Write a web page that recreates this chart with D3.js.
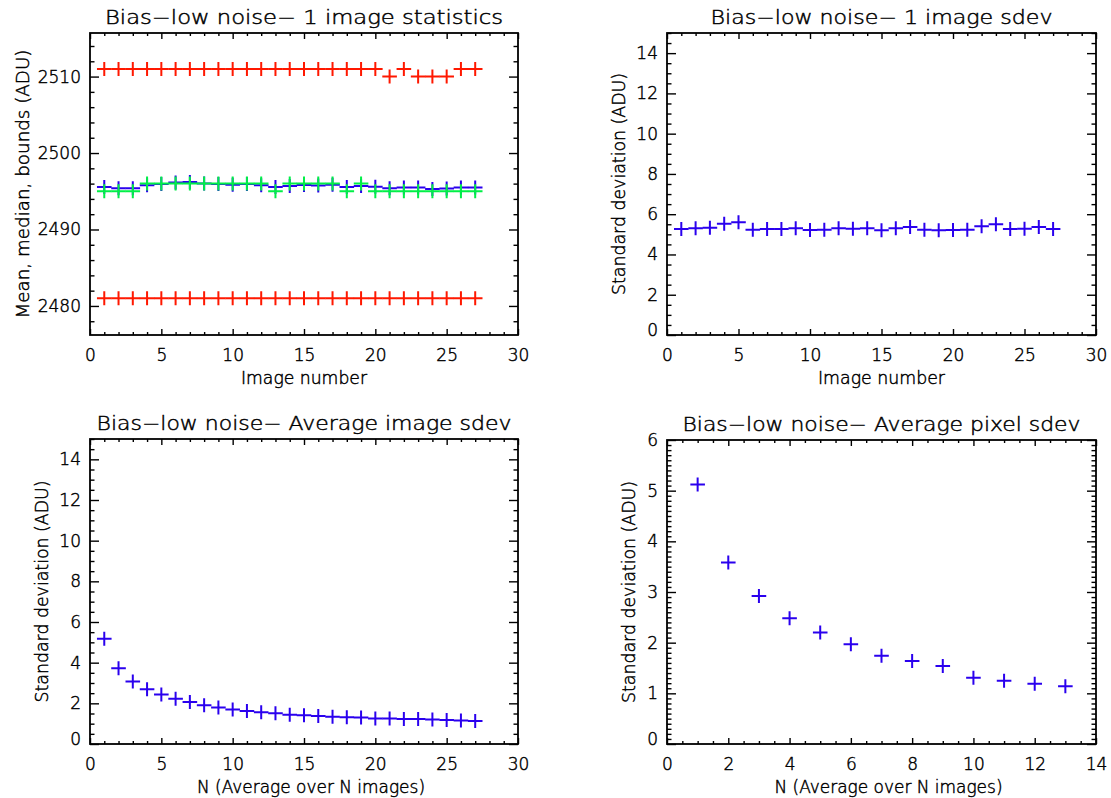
<!DOCTYPE html>
<html><head><meta charset="utf-8">
<script src="https://cdn.jsdelivr.net/npm/d3@7/dist/d3.min.js"></script>
<style>body{margin:0;background:#fff} text{font-weight:200;stroke:#000;stroke-width:0.45px}</style>
</head><body>
<svg id="c" width="1111" height="798"></svg>
<script>
// ---------- data ----------
const imageNumbers = [1,2,3,4,5,6,7,8,9,10,11,12,13,14,15,16,17,18,19,20,21,22,23,24,25,26,27];
const maxVals    = [2511,2511,2511,2511,2511,2511,2511,2511,2511,2511,2511,2511,2511,2511,2511,2511,2511,2511,2511,2511,2510,2511,2510,2510,2510,2511,2511];
const minVals    = [2481,2481,2481,2481,2481,2481,2481,2481,2481,2481,2481,2481,2481,2481,2481,2481,2481,2481,2481,2481,2481,2481,2481,2481,2481,2481,2481];
const meanVals   = [2495.56,2495.4,2495.4,2495.8,2495.95,2496.15,2496.2,2496.0,2495.95,2495.85,2495.95,2495.8,2495.55,2495.7,2495.82,2495.75,2495.85,2495.55,2495.7,2495.6,2495.4,2495.5,2495.5,2495.3,2495.35,2495.5,2495.5];
const medianVals = [2495,2495,2495,2496,2496,2496,2496,2496,2496,2496,2496,2496,2495,2496,2496,2496,2496,2495,2496,2495,2495,2495,2495,2495,2495,2495,2495];
const sdevVals   = [5.27,5.3,5.33,5.53,5.6,5.23,5.27,5.27,5.3,5.22,5.23,5.3,5.28,5.3,5.2,5.3,5.37,5.23,5.2,5.22,5.23,5.4,5.5,5.27,5.28,5.37,5.27];
const avgN       = [1,2,3,4,5,6,7,8,9,10,11,12,13,14,15,16,17,18,19,20,21,22,23,24,25,26,27];
const avgImgSdev = [5.18,3.72,3.07,2.69,2.44,2.23,2.07,1.9,1.8,1.7,1.62,1.56,1.51,1.44,1.41,1.38,1.34,1.31,1.3,1.26,1.25,1.23,1.23,1.21,1.18,1.16,1.13];
const pixN       = [1,2,3,4,5,6,7,8,9,10,11,12,13];
const avgPixSdev = [5.12,3.58,2.92,2.48,2.2,1.97,1.74,1.64,1.54,1.31,1.25,1.19,1.14];

const xTicks30 = [0,5,10,15,20,25,30];
const xTicks14 = [0,2,4,6,8,10,12,14];
const yTicksStats = [2480,2490,2500,2510];
const yTicks15 = [0,2,4,6,8,10,12,14];
const yTicks6 = [0,1,2,3,4,5,6];

const titles = ["Bias\u2212low noise\u2212 1 image statistics","Bias\u2212low noise\u2212 1 image sdev",
                "Bias\u2212low noise\u2212 Average image sdev","Bias\u2212low noise\u2212 Average pixel sdev"];
const xLabels = ["Image number","Image number","N (Average over N images)","N (Average over N images)"];
const yLabels = ["Mean, median, bounds (ADU)","Standard deviation (ADU)","Standard deviation (ADU)","Standard deviation (ADU)"];

const RED="#ff1800", BLUE="#2a00ee", GREEN="#00f046";
const FONT="DejaVu Sans";

const panels = [
  {box:[90,518,33,335], xd:[0,30], xt:xTicks30, xm:1, yd:[2476.2,2515.7], yt:yTicksStats, ym:2,
   series:[{x:imageNumbers,y:maxVals,c:RED},{x:imageNumbers,y:minVals,c:RED},{x:imageNumbers,y:meanVals,c:BLUE},{x:imageNumbers,y:medianVals,c:GREEN}],
   tw:398, xw:126, yw:269, ylx:29, xlOff:0},
  {box:[667,1096,33,335], xd:[0,30], xt:xTicks30, xm:1, yd:[0,15], yt:yTicks15, ym:0.5,
   series:[{x:imageNumbers,y:sdevVals,c:BLUE}], tw:342, xw:127, yw:222, ylx:625, xlOff:0},
  {box:[90,518,439,744], xd:[0,30], xt:xTicks30, xm:1, yd:[0,15], yt:yTicks15, ym:0.5,
   series:[{x:avgN,y:avgImgSdev,c:BLUE}], tw:415, xw:228, yw:222, ylx:48, xlOff:7},
  {box:[667,1096,440,744], xd:[0,14], xt:xTicks14, xm:0.5, yd:[0,6], yt:yTicks6, ym:0.1,
   series:[{x:pixN,y:avgPixSdev,c:BLUE}], tw:398, xw:228, yw:222, ylx:635, xlOff:7}
];

const svg = d3.select("#c");
svg.append("rect").attr("width",1111).attr("height",798).attr("fill","#fff");

panels.forEach((p,i)=>{
  const [x0,x1,y0,y1] = p.box;
  const W = x1-x0, H = y1-y0;
  const x = d3.scaleLinear().domain(p.xd).range([x0,x1]);
  const y = d3.scaleLinear().domain(p.yd).range([y1,y0]);
  const g = svg.append("g");
  const xLen = Math.round(0.02*H), yLen = Math.round(0.02*W);
  const eps = 1e-6;
  const xMinor = d3.range(p.xd[0], p.xd[1]+eps, p.xm).filter(v=>!p.xt.some(t=>Math.abs(t-v)<1e-6));
  const yMinor = d3.range(Math.ceil(p.yd[0]/p.ym-eps)*p.ym, p.yd[1]+eps, p.ym)
                   .map(v=>+v.toFixed(4)).filter(v=>v>=p.yd[0]-eps && v<=p.yd[1]+eps && !p.yt.some(t=>Math.abs(t-v)<1e-6));

  function styleAxis(sel){
    sel.select(".domain").remove();
    sel.selectAll(".tick line").attr("stroke","#000").attr("stroke-width",1.4);
    sel.selectAll("text").attr("font-family",FONT).attr("font-size",17).attr("fill","#000");
  }
  g.append("g").attr("transform",`translate(0,${y1})`)
    .call(d3.axisBottom(x).tickValues(p.xt).tickSize(-xLen).tickPadding(14).tickFormat(d3.format("d"))).call(styleAxis);
  g.append("g").attr("transform",`translate(0,${y1})`)
    .call(d3.axisBottom(x).tickValues(xMinor).tickSize(-xLen/2).tickFormat("")).call(styleAxis);
  g.append("g").attr("transform",`translate(0,${y0})`)
    .call(d3.axisTop(x).tickValues(p.xt).tickSize(-xLen).tickFormat("")).call(styleAxis);
  g.append("g").attr("transform",`translate(0,${y0})`)
    .call(d3.axisTop(x).tickValues(xMinor).tickSize(-xLen/2).tickFormat("")).call(styleAxis);
  const la = g.append("g").attr("transform",`translate(${x0},0)`)
    .call(d3.axisLeft(y).tickValues(p.yt).tickSize(-yLen).tickPadding(9).tickFormat(d3.format("d"))).call(styleAxis);
  la.selectAll(".tick text").filter(d=>Math.abs(d-p.yd[0])<1e-6).attr("dy","0.0em");
  g.append("g").attr("transform",`translate(${x0},0)`)
    .call(d3.axisLeft(y).tickValues(yMinor).tickSize(-yLen/2).tickFormat("")).call(styleAxis);
  g.append("g").attr("transform",`translate(${x1},0)`)
    .call(d3.axisRight(y).tickValues(p.yt).tickSize(-yLen).tickFormat("")).call(styleAxis);
  g.append("g").attr("transform",`translate(${x1},0)`)
    .call(d3.axisRight(y).tickValues(yMinor).tickSize(-yLen/2).tickFormat("")).call(styleAxis);

  g.append("rect").attr("x",x0).attr("y",y0).attr("width",W).attr("height",H)
    .attr("fill","none").attr("stroke","#000").attr("stroke-width",1.8);

  p.series.forEach(s=>{
    g.append("g").selectAll("path").data(s.x.map((xv,k)=>[xv,s.y[k]])).join("path")
      .attr("d","M-7.3,0H7.3M0,-7V7")
      .attr("transform",d=>`translate(${x(d[0])},${y(d[1])})`)
      .attr("stroke",s.c).attr("stroke-width",2).attr("fill","none");
  });

  const cx = (x0+x1)/2, cy=(y0+y1)/2;
  g.append("text").attr("x",cx).attr("y",y0-9).attr("text-anchor","middle")
    .attr("font-family",FONT).attr("font-size",19).attr("textLength",p.tw).attr("lengthAdjust","spacingAndGlyphs")
    .text(titles[i]);
  g.append("text").attr("x",cx+p.xlOff).attr("y",y1+49).attr("text-anchor","middle")
    .attr("font-family",FONT).attr("font-size",17).attr("textLength",p.xw).attr("lengthAdjust","spacingAndGlyphs")
    .text(xLabels[i]);
  g.append("text").attr("transform",`translate(${p.ylx},${cy}) rotate(-90)`).attr("text-anchor","middle")
    .attr("font-family",FONT).attr("font-size",17).attr("textLength",p.yw).attr("lengthAdjust","spacingAndGlyphs")
    .text(yLabels[i]);
});
</script>
</body></html>
